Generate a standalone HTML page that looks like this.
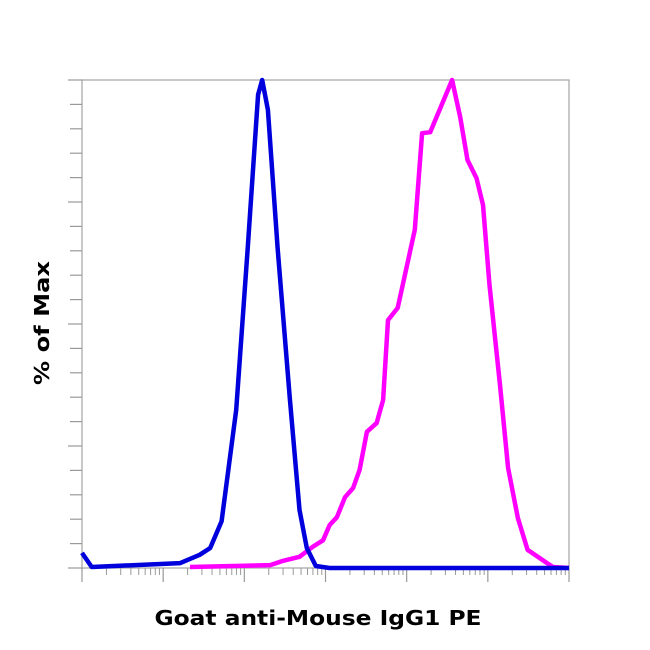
<!DOCTYPE html>
<html><head><meta charset="utf-8"><style>
html,body{margin:0;padding:0;background:#fff;}
svg{display:block;}
</style></head><body>
<svg id="chart" width="650" height="650" viewBox="0 0 650 650" xmlns="http://www.w3.org/2000/svg">
<rect width="650" height="650" fill="#fff"/>
<g id="axes"></g>
<g id="series"></g>
<text x="318" y="625" text-anchor="middle" font-family="DejaVu Sans, Liberation Sans, sans-serif" font-weight="bold" font-size="20" textLength="327" lengthAdjust="spacingAndGlyphs">Goat anti-Mouse IgG1 PE</text>
<text transform="translate(49,323) rotate(-90)" text-anchor="middle" font-family="DejaVu Sans, Liberation Sans, sans-serif" font-weight="bold" font-size="20" textLength="124" lengthAdjust="spacingAndGlyphs">% of Max</text>
</svg>
<script>
const blueX = [0.00,0.12,1.21,1.45,1.58,1.72,1.90,2.04,2.17,2.22,2.29,2.41,2.56,2.68,2.77,2.88,3.05,6.0];
const blueY = [3.1,0.2,1.0,2.7,4.1,9.6,32.4,65.2,97,100,93.9,65.6,34.8,11.9,4.1,0.4,0,0];
const magentaX = [1.33,2.32,2.46,2.68,2.84,2.97,3.05,3.14,3.24,3.34,3.42,3.51,3.63,3.71,3.77,3.89,4.10,4.19,4.29,4.56,4.66,4.75,4.86,4.94,5.02,5.15,5.25,5.37,5.49,5.73,5.80,6.0];
const magentaY = [0.2,0.6,1.4,2.3,4.3,5.7,8.8,10.4,14.5,16.4,20.1,27.9,29.7,34.4,50.8,53.3,69.3,89.1,89.3,100,92.4,83.6,79.9,74.4,58,37.5,20.5,10.2,3.7,1.0,0.2,0];
const decades = [0,1,2,3,4,5,6];
const yTicks = [0,5,10,15,20,25,30,35,40,45,50,55,60,65,70,75,80,85,90,95,100];

const L=82,R=569,T=80,B=568;
const xs = d => L + d/6*(R-L);
const ys = v => B - v/100*(B-T);
const NS="http://www.w3.org/2000/svg";
const axes=document.getElementById('axes');
const series=document.getElementById('series');
function mk(tag,attrs,parent){const e=document.createElementNS(NS,tag);for(const k in attrs)e.setAttribute(k,attrs[k]);parent.appendChild(e);return e;}

const frame=mk('rect',{x:L,y:T,width:R-L,height:B-T,fill:'none',stroke:'#aaa','stroke-width':1.3},axes);



yTicks.forEach((v,i)=>{
  const len = (i%5===0)?14:12;
  const t=mk('line',{x1:L-len,x2:L,y1:ys(v),y2:ys(v),stroke:'#999','stroke-width':1.2},axes);
  
  
});
decades.forEach((d,i)=>{
  const t=mk('line',{x1:xs(d),x2:xs(d),y1:B,y2:B+14,stroke:'#999','stroke-width':1.2},axes);
  
  
  if(i<decades.length-1){
    for(let m=2;m<=9;m++){
      const x=xs(d+Math.log10(m));
      const mt=mk('line',{x1:x,x2:x,y1:B,y2:B+7,stroke:'#999','stroke-width':1},axes);
      
      
    }
  }
});

function drawLine(X,Y,color,name){
  const pts=X.map((x,i)=>xs(x).toFixed(1)+','+ys(Y[i]).toFixed(1)).join(' ');
  const p=mk('polyline',{points:pts,fill:'none',stroke:color,'stroke-width':4.5,'stroke-linejoin':'round'},series);
  
  
}
drawLine(magentaX,magentaY,'#ff00ff','stained-histogram-line');
drawLine(blueX,blueY,'#0000dd','isotype-control-histogram-line');
</script>
</body></html>
